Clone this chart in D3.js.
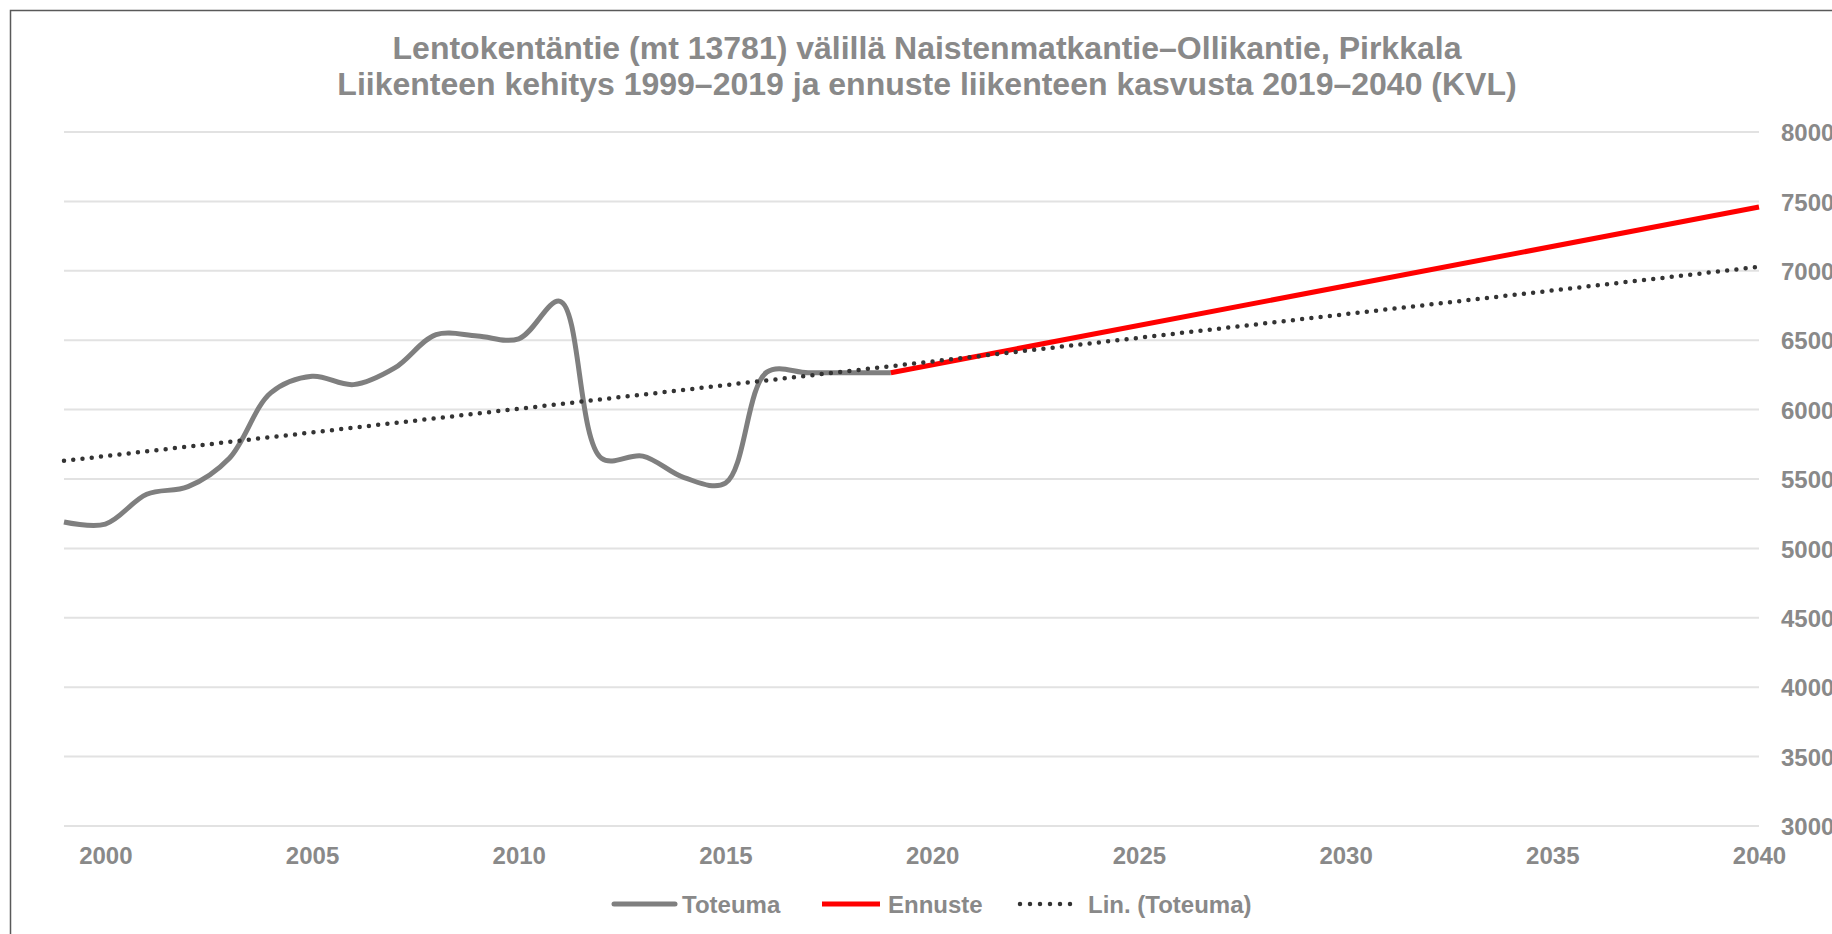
<!DOCTYPE html>
<html>
<head>
<meta charset="utf-8">
<script src="https://cdn.jsdelivr.net/npm/d3@7"></script>
<style>
  html, body { margin: 0; padding: 0; background: #fff; }
  svg { display: block; }
  text { font-family: "Liberation Sans", Arial, sans-serif; font-weight: bold; fill: #898989; }
</style>
</head>
<body>
<svg id="chart" width="1832" height="934"></svg>
<script>
// ---- Data ----
const titleLines = [
  "Lentokentäntie (mt 13781) välillä Naistenmatkantie–Ollikantie, Pirkkala",
  "Liikenteen kehitys 1999–2019 ja ennuste liikenteen kasvusta 2019–2040 (KVL)"
];
const toteumaYears = [1999, 2000, 2001, 2002, 2003, 2004, 2005, 2006, 2007, 2008, 2009, 2010, 2011, 2012, 2013, 2014, 2015, 2016, 2017, 2018, 2019];
const toteumaValues = [5190, 5175, 5390, 5445, 5650, 6120, 6240, 6180, 6300, 6540, 6530, 6510, 6780, 5650, 5665, 5510, 5470, 6270, 6265, 6265, 6265];
const ennusteYears = [2019, 2040];
const ennusteValues = [6265, 7460];
const xTicks = [2000, 2005, 2010, 2015, 2020, 2025, 2030, 2035, 2040];
const yTicks = [3000, 3500, 4000, 4500, 5000, 5500, 6000, 6500, 7000, 7500, 8000];
const legendLabels = ["Toteuma", "Ennuste", "Lin. (Toteuma)"];

// ---- Layout ----
const svg = d3.select("#chart");
const x = d3.scaleLinear().domain([1999, 2040]).range([64, 1759]);
const y = d3.scaleLinear().domain([3000, 8000]).range([826, 132]);

// frame
svg.append("rect").attr("x", 10.5).attr("y", 10.5).attr("width", 2000).attr("height", 2000)
  .attr("fill", "none").attr("stroke", "#595959").attr("stroke-width", 1.5);

// title
svg.append("g").selectAll("text").data(titleLines).join("text")
  .attr("x", 927).attr("y", (d, i) => 59 + i * 36)
  .attr("text-anchor", "middle").attr("font-size", 32).text(d => d);

// gridlines
svg.append("g").selectAll("line").data(yTicks).join("line")
  .attr("x1", x.range()[0]).attr("x2", x.range()[1])
  .attr("y1", d => y(d)).attr("y2", d => y(d))
  .attr("stroke", "#e2e2e2").attr("stroke-width", 2);

// y axis labels (right)
const yAxis = d3.axisRight(y).tickValues(yTicks).tickSize(0).tickPadding(0).tickFormat(d3.format("d"));
const gy = svg.append("g").attr("transform", "translate(1781,0)").call(yAxis);
gy.select(".domain").remove();
gy.selectAll("text").attr("font-size", 24).attr("font-family", null).attr("fill", null).attr("x", 0).attr("dy", "0.36em");

// x axis labels
const xAxis = d3.axisBottom(x).tickValues(xTicks).tickSize(0).tickPadding(0).tickFormat(d3.format("d"));
const gx = svg.append("g").attr("transform", "translate(0,846)").call(xAxis);
gx.select(".domain").remove();
gx.selectAll("text").attr("font-size", 24).attr("font-family", null).attr("fill", null).attr("dy", "0.75em");

// trend line (least squares on Toteuma)
const n = toteumaYears.length;
const mx = d3.mean(toteumaYears), my = d3.mean(toteumaValues);
let sxy = 0, sxx = 0;
for (let i = 0; i < n; i++) { sxy += (toteumaYears[i] - mx) * (toteumaValues[i] - my); sxx += (toteumaYears[i] - mx) ** 2; }
const slope = sxy / sxx, icpt = my - slope * mx;
const trendYears = [1999, 2040];

const toteuma = toteumaYears.map((yr, i) => [yr, toteumaValues[i]]);
const ennuste = ennusteYears.map((yr, i) => [yr, ennusteValues[i]]);
const trend = trendYears.map(yr => [yr, icpt + slope * yr]);

const smooth = d3.line().x(d => x(d[0])).y(d => y(d[1])).curve(d3.curveCatmullRom.alpha(0.5));
const straight = d3.line().x(d => x(d[0])).y(d => y(d[1]));

svg.append("path").datum(toteuma).attr("d", smooth)
  .attr("fill", "none").attr("stroke", "#7f7f7f").attr("stroke-width", 5).attr("stroke-linejoin", "round");
svg.append("path").datum(ennuste).attr("d", straight)
  .attr("fill", "none").attr("stroke", "#ff0000").attr("stroke-width", 5);
svg.append("path").datum(trend).attr("d", straight)
  .attr("fill", "none").attr("stroke", "#333333").attr("stroke-width", 4.5)
  .attr("stroke-linecap", "round").attr("stroke-dasharray", "0 9.3");

// legend
const lg = svg.append("g");
const ly = 904;
const legendItems = [
  {x1: 614, x2: 675, tx: 682, stroke: "#7f7f7f", cap: "round", dash: null, w: 5},
  {x1: 822, x2: 880, tx: 888, stroke: "#ff0000", cap: "butt", dash: null, w: 5},
  {x1: 1020, x2: 1080, tx: 1088, stroke: "#333333", cap: "round", dash: "0 10", w: 4.5}
];
legendItems.forEach((it, i) => {
  lg.append("line").attr("x1", it.x1).attr("x2", it.x2).attr("y1", ly).attr("y2", ly)
    .attr("stroke", it.stroke).attr("stroke-width", it.w).attr("stroke-linecap", it.cap)
    .attr("stroke-dasharray", it.dash);
  lg.append("text").attr("x", it.tx).attr("y", 913).attr("font-size", 24).text(legendLabels[i]);
});
</script>
</body>
</html>
